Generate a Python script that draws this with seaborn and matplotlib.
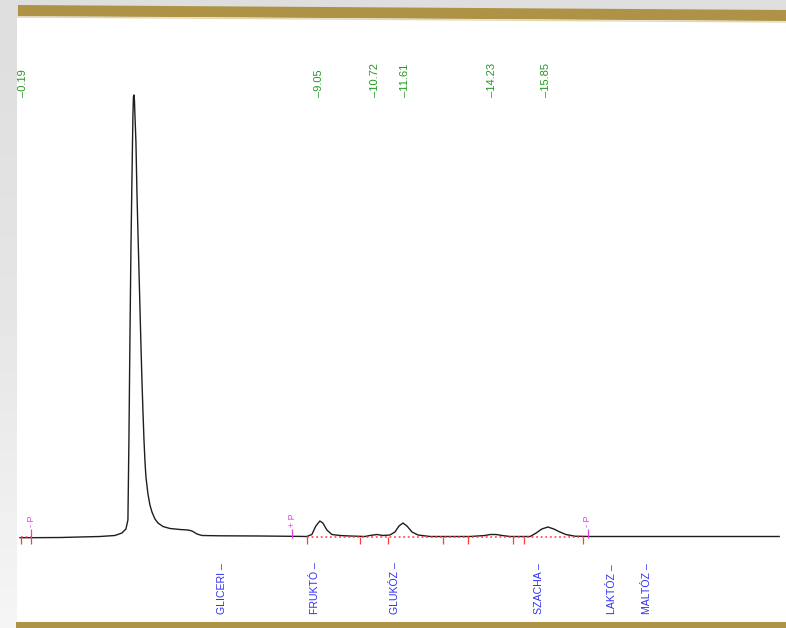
import numpy as np
import matplotlib
matplotlib.use("Agg")
import matplotlib.pyplot as plt
from matplotlib.patches import Rectangle, Polygon
import seaborn as sns

# chromatogram trace (time in min, signal in mV)
time = [0.09, 0.39, 1.29, 2.48, 2.93, 3.14, 3.26, 3.32, 3.35, 3.38, 3.41, 3.44,
        3.47, 3.485, 3.50, 3.515, 3.53, 3.56, 3.59, 3.62, 3.65, 3.68, 3.71, 3.74,
        3.77, 3.80, 3.83, 3.86, 3.92, 3.98, 4.04, 4.13, 4.22, 4.37, 4.58, 4.88,
        5.12, 5.24, 5.39, 5.54, 6.08, 7.28, 8.48, 8.68, 8.83, 8.95, 9.07, 9.16,
        9.28, 9.43, 9.67, 9.97, 10.42, 10.57, 10.78, 10.96, 11.17, 11.32, 11.44,
        11.56, 11.68, 11.83, 12.01, 12.37, 13.57, 14.02, 14.17, 14.35, 14.53,
        14.77, 15.37, 15.55, 15.72, 15.90, 16.08, 16.26, 16.44, 16.71, 17.16, 22.83]
signal = [-0.7, -0.7, -0.5, 0.5, 1.5, 4, 8, 17, 97, 197, 287, 357,
          422, 440, 442, 437, 422, 395, 345, 305, 268, 230, 192, 157,
          126, 98, 76, 60, 43, 32, 25, 18, 14, 10.5, 8.5, 7.5,
          7, 6, 3, 1.5, 1.2, 1, 0.6, 0.5, 2.5, 11, 16, 14,
          7, 2.5, 1.5, 1, 0.5, 1.5, 2.5, 1.5, 2, 5, 11,
          14, 11, 5, 2, 0.5, 0.5, 1.5, 2.5, 2.5, 1.5,
          0.5, 0.5, 4, 8, 10, 8, 5, 2.5, 0.8, 0.5, 0.5]

# retention times printed at the top
rt_labels = [0.19, 9.05, 10.72, 11.61, 14.23, 15.85]

# component names printed below
comp_names = ["GLICERI", "FRUKTÓ", "GLUKÓZ", "SZACHA", "LAKTÓZ", "MALTÓZ"]
comp_times = [6.13, 8.92, 11.32, 15.63, 17.81, 18.86]

# integration marks
tick_times = [0.12, 0.42, 8.68, 10.27, 11.11, 12.76, 13.51, 14.86, 15.19, 16.95]
base_segments = [(0.12, 0.42), (8.68, 16.95)]
p_marks = ["- P", "+ P", "- P"]
p_times = [0.42, 8.24, 17.10]

W, H = 786, 628
fig = plt.figure(figsize=(W / 100, H / 100), dpi=100)
fig.patch.set_facecolor("#e2e2e2")
plt.rcParams["font.family"] = ["Liberation Sans", "DejaVu Sans"]

# slide background
bg = fig.add_axes([0, 0, 1, 1], zorder=0)
bg.set_xlim(0, W)
bg.set_ylim(H, 0)
bg.axis("off")
grad = np.linspace(0, 1, 256).reshape(-1, 1)
bg.imshow(grad, cmap=matplotlib.colors.LinearSegmentedColormap.from_list(
    "g", ["#dedede", "#e6e6e6", "#f6f6f6"]), extent=(0, W, H, 0), aspect="auto")
bg.add_patch(Rectangle((17, 17), W - 17, 606, color="white", lw=0))
bg.add_patch(Polygon([(18, 5), (W, 10), (W, 21), (18, 16)], closed=True,
                     color="#ae9346", lw=0))
bg.plot([18, W], [17, 22], color="#e2d7b4", lw=1)
bg.add_patch(Rectangle((16, 622), W - 16, 6, color="#ae9346", lw=0))

# chromatogram axes: t=0 at x=17.1 px, 33.38 px per minute, baseline at y=537 px
x0, ppm = 17.1, 33.38
ax = fig.add_axes([x0 / W, 0, (W - x0) / W, 1], zorder=2)
ax.set_facecolor("none")
ax.set_xlim(0, (W - x0) / ppm)
ax.set_ylim(537 - H, 537)
ax.axis("off")

sns.lineplot(x=time, y=signal, ax=ax, color="#1e1e1e", linewidth=1.0,
             estimator=None, sort=False)

red = "#ff3b3b"
ax.vlines(tick_times, -7, 0, color=red, lw=0.9)
for a, b in base_segments:
    ax.plot([a, b], [0, 0], color=red, lw=1.1, ls=(0, (1.2, 1.8)))

mag = "#e23de2"
for t, lab in zip(p_times, p_marks):
    ax.vlines(t, -1, 8, color=mag, lw=0.9)
    ax.text(t, 10, lab, rotation=90, ha="center", va="bottom",
            color=mag, fontsize=6.4)

for t in rt_labels:
    ax.text(t, 440, f"–{t:.2f}", rotation=90, ha="center", va="bottom",
            color="#229922", fontsize=8)

for t, name in zip(comp_times, comp_names):
    ax.text(t, -77, f"{name} –", rotation=90, ha="center", va="bottom",
            color="#3030f0", fontsize=7.6)

fig.savefig("out.png", dpi=100, facecolor=fig.get_facecolor())
